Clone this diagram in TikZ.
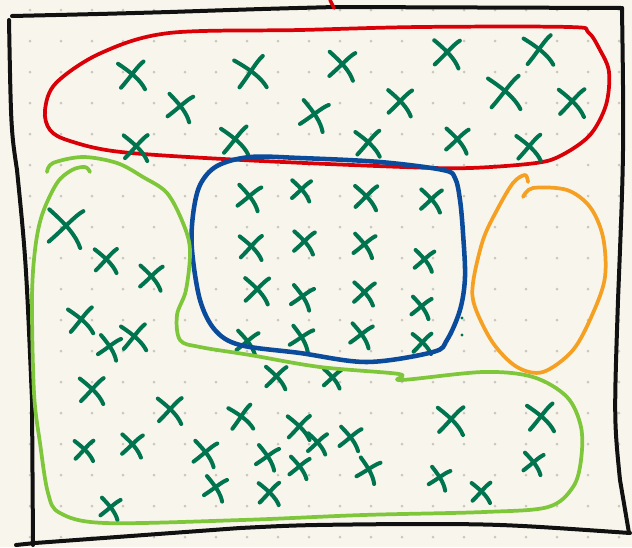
\documentclass[tikz,border=0pt]{standalone}
\definecolor{bg}{HTML}{F8F6EC}
\definecolor{dotc}{HTML}{C9C7C0}
\definecolor{xgreen}{HTML}{00744F}
\definecolor{lime}{HTML}{7EC63A}
\definecolor{bluel}{HTML}{0B4B9B}
\definecolor{redl}{HTML}{D90008}
\definecolor{orangel}{HTML}{F5A023}
\definecolor{ink}{HTML}{111111}
\tikzset{
  xline/.style={draw=xgreen, line width=3pt},
  frame/.style={draw=ink, line width=3pt},
  loopline/.style={line width=2.8pt},
}
\begin{document}
\begin{tikzpicture}[x=0.75pt,y=-0.75pt,line cap=round,line join=round]
\fill[bg] (0,0) rectangle (632,547);
\useasboundingbox (0,0) rectangle (632,547);
% dot grid
\foreach \i in {0,...,19} \foreach \j in {0,...,17}
  \fill[dotc] ({30+31*\i},{10+31*\j}) circle[radius=1.5];
% frame
\draw[frame] (12,16) .. controls (100,14) .. (170,12) .. controls (260,9) .. (335,7) -- (622,8);
\draw[frame] (622,8) .. controls (624,150) .. (618,300) .. controls (614,420) .. (620,480) -- (629,533);
\draw[frame] (630,533) .. controls (500,524) .. (400,524) .. controls (300,525) .. (240,528) -- (35,543) -- (16,545);
\draw[frame] (9,20) .. controls (11,130) .. (17,170) .. controls (26,260) .. (32,400) -- (33,545);
\draw[draw=redl, line width=2.6pt] (330,0) -- (334,8);
% red loop
\draw[redl,loopline] plot[smooth cycle,tension=0.55] coordinates {
 (169,33) (300,30) (420,27) (569,27) (588,32) (600,50) (609,72) (606,105)
 (590,135) (562,155) (536,163) (470,168) (403,167) (242,160) (121,152)
 (70,141) (50,130) (45,110) (56,83) (101,53)};
% crosses
\foreach \x/\y/\s/\r in {
 133/75/15/0, 252/72/17/4, 343/65/15/-8, 448/53/15/-6, 540/50/16/2,
 181/107/14/-12, 315/115/15/-16, 401/102/14/-6, 506/92/18/0, 573/102/15/-4,
 137/147/14/-4, 236/140/15/0, 369/143/14/-2, 458/140/13/-8, 530/147/14/-2,
 250/197/13/-12, 302/190/11/-8, 367/197/13/-6, 432/200/12/-8,
 252/247/13/-4, 305/242/12/-8, 365/245/12/-12, 425/260/11/-10,
 258/290/14/-6, 303/297/12/-16, 365/293/12/-8, 422/307/11/-12,
 248/342/12/-12, 302/338/12/-18, 362/335/12/-14, 423/343/11/-4,
 67/227/20/-8, 107/260/13/-4, 152/277/13/-8, 82/320/14/0, 110/347/12/-16,
 135/337/14/0, 277/377/12/-6, 93/390/14/-4, 333/378/10/-8, 171/410/14/-4,
 242/417/13/4, 300/427/13/-4, 318/443/11/-8, 351/438/12/-12, 85/450/11/-4,
 133/445/12/-8, 206/453/13/-12, 268/457/12/-16, 300/467/11/-12, 369/470/12/-20,
 452/420/15/-4, 542/417/15/0, 440/478/11/-18, 482/492/11/-4, 534/463/11/-12,
 216/488/12/-16, 270/493/12/-4, 111/508/11/-12}
{
 \begin{scope}[shift={(\x,\y)},rotate=\r]
  \draw[xline] ({-\s},{-0.75*\s}) .. controls ({-0.1*\s},{-0.15*\s}) and ({0.5*\s},{0.35*\s}) .. ({0.8*\s},{0.95*\s});
  \draw[xline] ({-0.8*\s},{0.85*\s}) .. controls ({-0.1*\s},{0.05*\s}) and ({0.3*\s},{-0.6*\s}) .. ({0.7*\s},{-0.9*\s});
 \end{scope}
}
\fill[xgreen] (462,318) circle[radius=1.6];
\fill[xgreen] (462,335) circle[radius=1.6];
% blue loop
\draw[bluel,line width=3.4pt] plot[smooth cycle,tension=0.55] coordinates {
 (250,157) (300,158) (380,162) (443,170) (455,178) (460,200) (463,233) (465,277)
 (460,310) (447,340) (433,352) (367,362) (300,353) (240,345) (215,330) (200,300)
 (192,250) (193,215) (200,185) (217,166)};
% lime loop
\draw[lime,loopline] plot[smooth,tension=0.55] coordinates {
 (47,172) (53,163) (83,157) (117,163) (143,177) (167,193) (183,223) (190,250)
 (186,290) (177,315) (180,340) (200,347) (250,355) (320,367) (399,374) (401,380)
 (483,372) (533,377) (567,397) (581,427) (581,460) (573,487) (548,507) (484,512)
 (363,515) (242,520) (105,523) (60,513) (48,493) (40,443) (34,393) (32,300)
 (35,250) (42,215) (57,183) (72,170) (85,167) (90,172)};
% orange loop
\draw[orangel,loopline] plot[smooth,tension=0.55] coordinates {
 (523,197) (533,188) (567,190) (590,207) (603,237) (605,277) (593,313) (573,350)
 (543,372) (517,367) (493,343) (475,307) (473,283) (483,240) (497,210) (513,183)
 (525,175) (528,182)};
\end{tikzpicture}
\end{document}
